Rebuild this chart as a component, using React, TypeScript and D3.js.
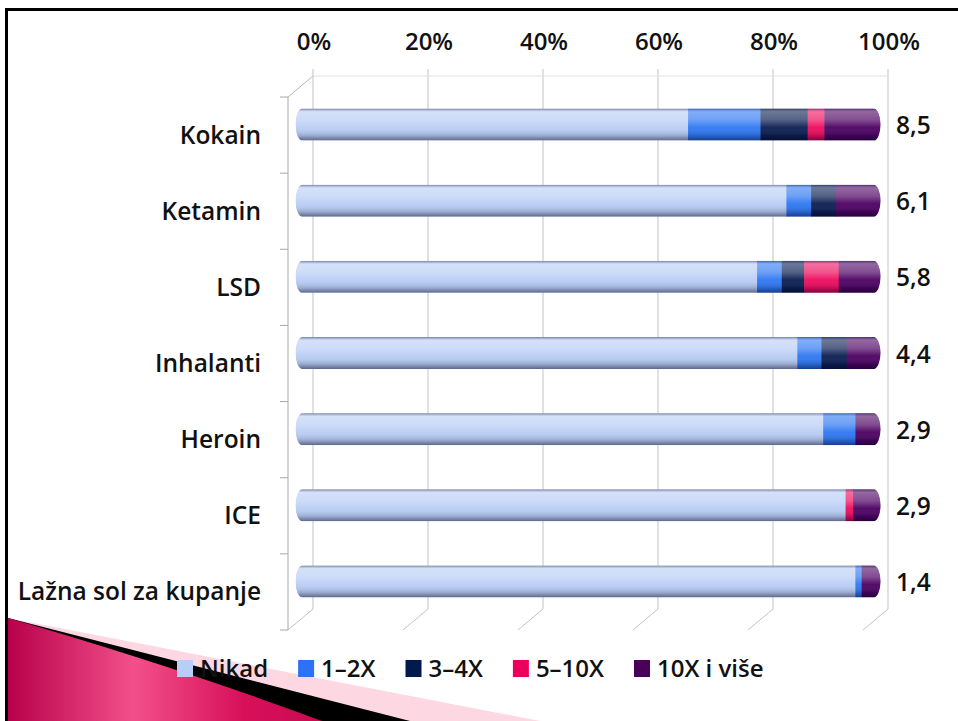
import React, { useEffect, useRef } from 'react';
import * as d3 from 'd3';

const categories = ['Kokain', 'Ketamin', 'LSD', 'Inhalanti', 'Heroin', 'ICE', 'Lažna sol za kupanje'];
const seriesNames = ['Nikad', '1–2X', '3–4X', '5–10X', '10X i više'];
const nikad = [67.4, 84.5, 79.4, 86.4, 90.9, 94.8, 96.5];
const x12 = [12.6, 4.3, 4.3, 4.2, 5.6, 0, 1.1];
const x34 = [8.2, 4.3, 3.9, 4.4, 0, 0, 0];
const x510 = [2.9, 0, 6.0, 0, 0, 1.3, 0];
const x10 = [8.9, 6.9, 6.4, 5.0, 3.5, 3.9, 2.4];
const valueLabels = ['8,5', '6,1', '5,8', '4,4', '2,9', '2,9', '1,4'];
const tickValues = [0, 20, 40, 60, 80, 100];
const colors = ['#b9cdf5', '#2f78f2', '#0c1f52', '#ee0c5e', '#4d0262'];
const legendColors = ['#b7cef8', '#2d72f4', '#001a4e', '#ec005e', '#4a0058'];

const FONT = '"Open Sans", Lato, sans-serif';

const App = () => {
  const svgRef = useRef<SVGSVGElement | null>(null);

  useEffect(() => {
    document.body.style.margin = '0';
    document.body.style.overflow = 'hidden';
    const W = 958, H = 721;
    const svg = d3.select(svgRef.current);
    svg.selectAll('*').remove();
    svg.attr('width', W).attr('height', H);

    const defs = svg.append('defs');

    // background + decoration
    svg.append('rect').attr('width', W).attr('height', H).attr('fill', '#fff');
    const mg = defs.append('linearGradient').attr('id', 'mag').attr('x1', 0).attr('x2', 1).attr('y1', 0).attr('y2', 0);
    mg.append('stop').attr('offset', 0).attr('stop-color', '#b8004a');
    mg.append('stop').attr('offset', 0.4).attr('stop-color', '#f2508a');
    mg.append('stop').attr('offset', 0.75).attr('stop-color', '#d8105a');
    mg.append('stop').attr('offset', 1).attr('stop-color', '#c80a50');
    svg.append('path').attr('d', 'M8,618 L540,721 L8,721 Z').attr('fill', '#fdd7e2');
    svg.append('path').attr('d', 'M8,618 L410,721 L8,721 Z').attr('fill', '#000');
    svg.append('path').attr('d', 'M8,618 Q180,668 322,721 L8,721 Z').attr('fill', 'url(#mag)');

    // slide border
    svg.append('line').attr('x1', 5).attr('x2', W).attr('y1', 9.5).attr('y2', 9.5).attr('stroke', '#000').attr('stroke-width', 3);
    svg.append('line').attr('x1', 6.5).attr('x2', 6.5).attr('y1', 8).attr('y2', H).attr('stroke', '#000').attr('stroke-width', 3);

    const dx = 25, dy = 21;
    const x = d3.scaleLinear().domain([0, 100]).range([288, 863]);
    const y = d3.scaleBand().domain(categories).range([97, 630]);
    const yTop = 97, yBot = 630;
    const grid = '#c3c3c3';

    const g = svg.append('g');
    // back wall gridlines + floor
    tickValues.forEach(t => {
      const bx = x(t) + dx;
      g.append('line').attr('x1', bx).attr('x2', bx).attr('y1', yTop - dy - 7).attr('y2', yBot - dy)
        .attr('stroke', grid).attr('stroke-width', 1);
      g.append('line').attr('x1', bx).attr('x2', x(t)).attr('y1', yBot - dy).attr('y2', yBot)
        .attr('stroke', grid).attr('stroke-width', 1);
    });
    g.append('line').attr('x1', x(0) + dx).attr('x2', x(100) + dx).attr('y1', yTop - dy).attr('y2', yTop - dy)
      .attr('stroke', '#e2e2e2');
    // left wall
    g.append('line').attr('x1', x(0)).attr('x2', x(0)).attr('y1', yTop).attr('y2', yBot).attr('stroke', '#a8a8a8');
    g.append('line').attr('x1', x(0)).attr('x2', x(0) + dx).attr('y1', yTop).attr('y2', yTop - dy).attr('stroke', '#b8b8b8');
    const bounds = categories.map(c => y(c) as number).concat([yBot]);
    bounds.forEach(b => {
      g.append('line').attr('x1', x(0) - 8).attr('x2', x(0)).attr('y1', b).attr('y2', b).attr('stroke', '#a8a8a8');
    });

    // tick labels
    tickValues.forEach(t => {
      svg.append('text').attr('x', x(t) + dx + 1).attr('y', 50).attr('text-anchor', 'middle')
        .attr('font-family', FONT).attr('font-size', 24).attr('font-weight', 600).attr('fill', '#111')
        .text(`${t}%`);
    });

    // category labels
    categories.forEach(c => {
      svg.append('text').attr('x', 261).attr('y', (y(c) as number) + y.bandwidth() / 2 + 8.5)
        .attr('text-anchor', 'end').attr('font-family', FONT).attr('font-size', 24.5).attr('font-weight', 600)
        .attr('fill', '#111').text(c);
    });

    // cylinder shading
    const sh = defs.append('linearGradient').attr('id', 'shade').attr('x1', 0).attr('x2', 0).attr('y1', 0).attr('y2', 1);
    [[0, '#3c4670', 0.6], [0.1, '#ffffff', 0.4], [0.35, '#ffffff', 0.3], [0.6, '#ffffff', 0.04],
     [0.85, '#000018', 0.18], [1, '#000020', 0.5]].forEach(([o, c, a]) => {
      sh.append('stop').attr('offset', o as number).attr('stop-color', c as string).attr('stop-opacity', a as number);
    });

    const series = [nikad, x12, x34, x510, x10];
    const barH = 32, cap = 5;
    categories.forEach((c, i) => {
      const cy = (y(c) as number) + y.bandwidth() / 2 - dy / 2;
      const top = cy - barH / 2;
      const left = x(0) + dx / 2 - cap, right = x(100) + dx / 2 + cap;
      const clipId = `clip${i}`;
      defs.append('clipPath').attr('id', clipId).append('rect')
        .attr('x', left).attr('y', top).attr('width', right - left).attr('height', barH).attr('rx', 7).attr('ry', barH / 2);
      const bg = svg.append('g').attr('clip-path', `url(#${clipId})`);
      let acc = 0;
      const lastIdx = series.map(s => s[i]).reduce((m, v, k) => (v > 0 ? k : m), 0);
      series.forEach((s, k) => {
        const v = s[i];
        if (v <= 0) return;
        let x0 = x(acc) + dx / 2, x1 = x(acc + v) + dx / 2;
        if (acc === 0) x0 = left;
        if (k === lastIdx) x1 = right;
        bg.append('rect').attr('x', x0).attr('y', top).attr('width', x1 - x0 + 0.5).attr('height', barH).attr('fill', colors[k]);
        acc += v;
      });
      bg.append('rect').attr('x', left).attr('y', top).attr('width', right - left).attr('height', barH).attr('fill', 'url(#shade)');

      svg.append('text').attr('x', 896).attr('y', cy + 9.5).attr('font-family', FONT).attr('font-size', 24.5)
        .attr('font-weight', 600).attr('fill', '#111').text(valueLabels[i]);
    });

    // legend
    let lx = 177;
    seriesNames.forEach((n, k) => {
      svg.append('rect').attr('x', lx).attr('y', 660).attr('width', 16).attr('height', 17).attr('fill', legendColors[k]);
      const t = svg.append('text').attr('x', lx + 23).attr('y', 677).attr('font-family', FONT).attr('font-size', 24)
        .attr('font-weight', 600).attr('fill', '#111').text(n);
      const w = (t.node() as SVGTextElement).getComputedTextLength();
      lx += 23 + w + 30;
    });
  }, []);

  return <svg ref={svgRef} style={{ display: 'block' }} />;
};

export default App;
